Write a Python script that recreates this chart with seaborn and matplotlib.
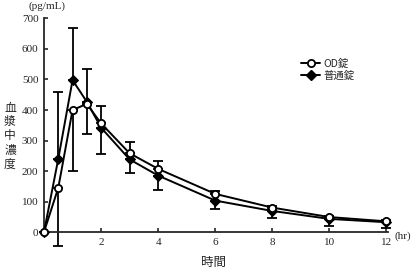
import matplotlib
matplotlib.use("Agg")
import matplotlib.pyplot as plt
import seaborn as sns
import pandas as pd
from matplotlib.lines import Line2D

# ---- data ----
time_hr = [0, 0.5, 1, 1.5, 2, 3, 4, 6, 8, 10, 12]
od_conc = [0, 145, 400, 420, 356, 258, 207, 125, 80, 49, 35]
normal_conc = [0, 240, 498, 427, 342, 238, 185, 103, 69, 43, 32]
normal_sd_upper = [0, 220, 172, 106, 72, 56, 49, 30, 17, 10, 8]
od_sd_lower = [0, 190, 199, 100, 100, 66, 69, 50, 35, 30, 23]
series_names = ["OD錠", "普通錠"]
y_ticks = [0, 100, 200, 300, 400, 500, 600, 700]
x_ticks = [2, 4, 6, 8, 10, 12]
ylabel_chars = "血漿中濃度"

sns.set_style("ticks")
plt.rcParams['font.family'] = ['Liberation Serif', 'Noto Sans CJK JP', 'DejaVu Sans']

fig = plt.figure(figsize=(4.14, 2.70), dpi=100)
ax = fig.add_axes([0.1063, 0.1407, 0.8307, 0.7908])

df_od = pd.DataFrame({"t": time_hr, "c": od_conc})
df_n = pd.DataFrame({"t": time_hr, "c": normal_conc})

# error bars
ax.errorbar(time_hr, normal_conc, yerr=[[0] * len(time_hr), normal_sd_upper],
            fmt='none', ecolor='black', elinewidth=1.3, capsize=3.5, capthick=1.3, zorder=2)
ax.errorbar(time_hr, od_conc, yerr=[od_sd_lower, [0] * len(time_hr)],
            fmt='none', ecolor='black', elinewidth=1.3, capsize=3.5, capthick=1.3, zorder=2)

sns.lineplot(data=df_n, x="t", y="c", ax=ax, color='black', lw=1.4,
             marker='D', markersize=5, markerfacecolor='black', markeredgecolor='black',
             zorder=3)
sns.lineplot(data=df_od, x="t", y="c", ax=ax, color='black', lw=1.4,
             marker='o', markersize=5.2, markerfacecolor='white', markeredgecolor='black',
             markeredgewidth=1.3, zorder=4)

ax.set_xlim(0, 12.05)
ax.set_ylim(0, 700)
ax.set_xticks(x_ticks)
ax.set_yticks(y_ticks)
ax.tick_params(direction='in', length=3, width=1.2, labelsize=8, pad=4)
ax.set_xlabel("")
ax.set_ylabel("")
for s in ["top", "right"]:
    ax.spines[s].set_visible(False)
for s in ["left", "bottom"]:
    ax.spines[s].set_linewidth(1.3)
for ln in ax.lines:
    ln.set_clip_on(False)
for c in ax.collections:
    c.set_clip_on(False)

fig.text(47 / 414, 1 - 6 / 270, "(pg/mL)", ha='center', va='center', fontsize=8)
fig.text(403 / 414, 1 - 236 / 270, "(hr)", ha='center', va='center', fontsize=8)
fig.text(214 / 414, 1 - 262 / 270, "時間", ha='center', va='center', fontsize=9,
         family=['Noto Sans CJK JP'])
for i, ch in enumerate(ylabel_chars):
    fig.text(10 / 414, 1 - (108 + 14 * i) / 270, ch, ha='center', va='center',
             fontsize=8.5, family=['Noto Sans CJK JP'])

handles = [
    Line2D([], [], color='black', lw=1.4, marker='o', markersize=5.2,
           markerfacecolor='white', markeredgecolor='black', markeredgewidth=1.3),
    Line2D([], [], color='black', lw=1.4, marker='D', markersize=5,
           markerfacecolor='black'),
]
leg = fig.legend(handles, series_names, loc='upper left',
                 bbox_to_anchor=(292 / 414, 1 - 49 / 270), frameon=False,
                 handlelength=1.8, handletextpad=0.3, labelspacing=0.2,
                 prop={'family': ['Noto Sans CJK JP'], 'size': 7.5})

fig.savefig("out.png", dpi=100)
